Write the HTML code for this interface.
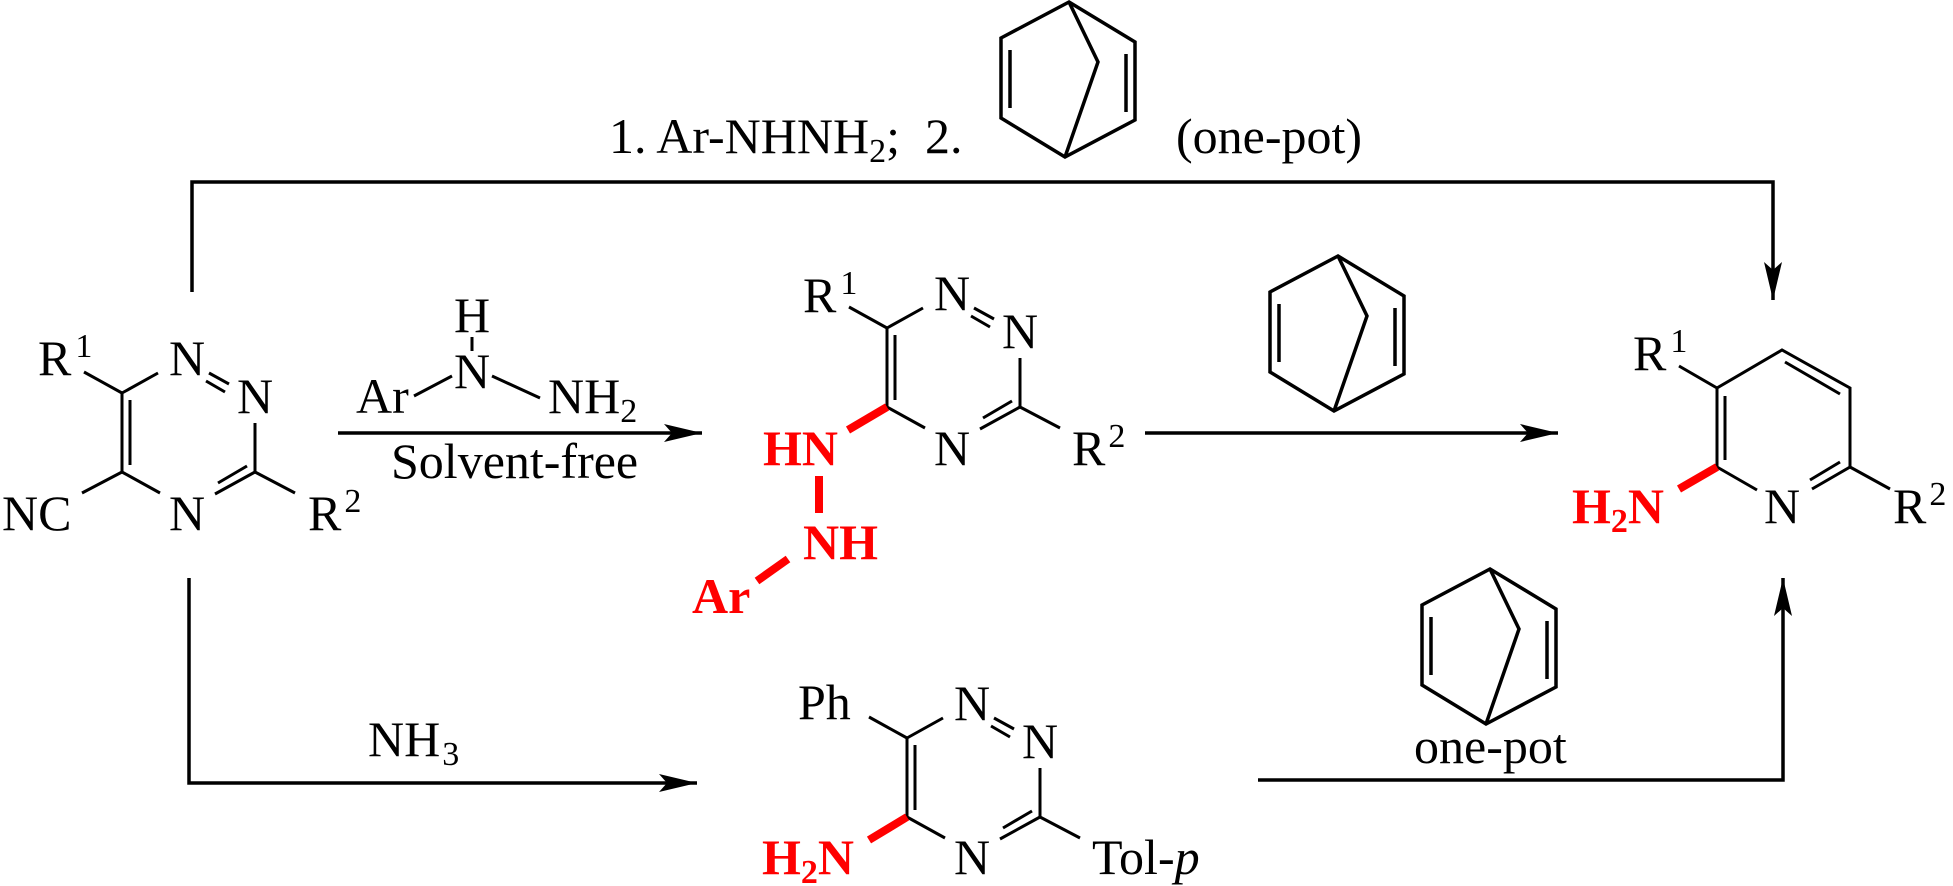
<!DOCTYPE html>
<html><head><meta charset="utf-8"><style>
html,body{margin:0;padding:0;background:#fff;}
svg{display:block;}
text{font-family:"Liberation Serif",serif;font-size:50px;fill:#000;}
.r{fill:#ff0000;font-weight:bold;}
</style></head><body>
<svg width="1953" height="886" viewBox="0 0 1953 886" xmlns="http://www.w3.org/2000/svg">
<defs>
<marker id="ah" markerWidth="44" markerHeight="24" refX="38" refY="12" orient="auto" markerUnits="userSpaceOnUse">
<path d="M0,3 L38,12 L0,21 L8,12 Z" fill="#000"/>
</marker>
<g id="trz" stroke="#000" stroke-width="3" fill="none">
<line x1="0" y1="0" x2="36" y2="-20"/>
<line x1="87" y1="-20" x2="107" y2="-9"/>
<line x1="84" y1="-12" x2="103" y2="-1"/>
<line x1="133" y1="30" x2="133" y2="79"/>
<line x1="133" y1="79" x2="93" y2="101"/>
<line x1="125" y1="73" x2="96" y2="90"/>
<line x1="0" y1="79" x2="38" y2="100"/>
<line x1="0" y1="0" x2="0" y2="79"/>
<line x1="8" y1="7" x2="8" y2="72"/>
</g>
<g id="nbd" stroke="#000" stroke-width="3.5" fill="none" stroke-linejoin="miter">
<path d="M0,0 L-68,36 L-68,116 L-4,155 L66,118 L66,40 Z"/>
<path d="M0,0 L29,60 L-4,155"/>
<line x1="-59" y1="48" x2="-59" y2="106"/>
<line x1="57" y1="52" x2="57" y2="110"/>
</g>
</defs>

<!-- top route -->
<polyline points="192,292 192,182 1773,182 1773,300" fill="none" stroke="#000" stroke-width="3.5" marker-end="url(#ah)"/>
<text x="609" y="153" xml:space="preserve">1. Ar-NHNH<tspan font-size="34" dy="9">2</tspan><tspan dy="-9">;  2.</tspan></text>
<use href="#nbd" x="1069" y="2"/>
<text x="1176" y="153">(one-pot)</text>

<!-- left triazine -->
<use href="#trz" x="122" y="393"/>
<g stroke="#000" stroke-width="3">
<line x1="122" y1="393" x2="84" y2="372"/>
<line x1="122" y1="472" x2="82" y2="493"/>
<line x1="255" y1="472" x2="295" y2="493"/>
</g>
<text x="38" y="375">R<tspan font-size="34" dx="4" dy="-18">1</tspan></text>
<text x="187" y="375" text-anchor="middle">N</text>
<text x="255" y="413" text-anchor="middle">N</text>
<text x="187" y="530" text-anchor="middle">N</text>
<text x="2" y="530">NC</text>
<text x="308" y="530">R<tspan font-size="34" dx="3" dy="-18">2</tspan></text>

<!-- reagent arrow 1 -->
<text x="356" y="413">Ar</text>
<text x="472" y="388" text-anchor="middle">N</text>
<text x="472" y="332" text-anchor="middle">H</text>
<text x="548" y="413">NH<tspan font-size="34" dy="9">2</tspan></text>
<g stroke="#000" stroke-width="3">
<line x1="414" y1="396" x2="452" y2="376"/>
<line x1="492" y1="376" x2="540" y2="398"/>
<line x1="472" y1="337" x2="472" y2="351"/>
</g>
<text x="391" y="478">Solvent-free</text>
<line x1="338" y1="433" x2="702" y2="433" stroke="#000" stroke-width="3.5" marker-end="url(#ah)"/>

<!-- middle triazine -->
<use href="#trz" x="887" y="328"/>
<g stroke="#000" stroke-width="3">
<line x1="887" y1="328" x2="849" y2="307"/>
<line x1="1020" y1="407" x2="1060" y2="428"/>
</g>
<g stroke="#ff0000" stroke-width="8">
<line x1="887" y1="407" x2="848" y2="430"/>
<line x1="819" y1="476" x2="819" y2="513"/>
<line x1="788" y1="559" x2="757" y2="581"/>
</g>
<text x="803" y="312">R<tspan font-size="34" dx="4" dy="-18">1</tspan></text>
<text x="952" y="310" text-anchor="middle">N</text>
<text x="1020" y="348" text-anchor="middle">N</text>
<text x="952" y="465" text-anchor="middle">N</text>
<text x="1072" y="465">R<tspan font-size="34" dx="3" dy="-18">2</tspan></text>
<text class="r" x="763" y="465">HN</text>
<text class="r" x="803" y="559">NH</text>
<text class="r" x="692" y="613">Ar</text>

<!-- arrow 2 -->
<use href="#nbd" x="1338" y="256"/>
<line x1="1145" y1="433" x2="1558" y2="433" stroke="#000" stroke-width="3.5" marker-end="url(#ah)"/>

<!-- pyridine -->
<g stroke="#000" stroke-width="3" fill="none">
<polyline points="1717,467 1717,388 1782,350 1850,388 1850,467 1812,489"/>
<line x1="1785" y1="362" x2="1840" y2="394"/>
<line x1="1725" y1="396" x2="1725" y2="460"/>
<line x1="1840" y1="462" x2="1810" y2="480"/>
<line x1="1757" y1="490" x2="1717" y2="467"/>
<line x1="1717" y1="388" x2="1679" y2="366"/>
<line x1="1850" y1="467" x2="1890" y2="489"/>
</g>
<line x1="1717" y1="467" x2="1679" y2="489" stroke="#ff0000" stroke-width="8"/>
<text x="1633" y="370">R<tspan font-size="34" dx="4" dy="-18">1</tspan></text>
<text x="1782" y="523" text-anchor="middle">N</text>
<text x="1893" y="523">R<tspan font-size="34" dx="3" dy="-18">2</tspan></text>
<text class="r" x="1572" y="523">H<tspan font-size="34" dy="9">2</tspan><tspan dy="-9">N</tspan></text>

<!-- bottom route -->
<polyline points="189,578 189,783 697,783" fill="none" stroke="#000" stroke-width="3.5" marker-end="url(#ah)"/>
<text x="368" y="756">NH<tspan font-size="34" dx="2" dy="9">3</tspan></text>

<use href="#trz" x="907" y="738"/>
<g stroke="#000" stroke-width="3">
<line x1="907" y1="738" x2="869" y2="717"/>
<line x1="1040" y1="817" x2="1080" y2="838"/>
</g>
<line x1="907" y1="817" x2="869" y2="840" stroke="#ff0000" stroke-width="8"/>
<text x="798" y="719">Ph</text>
<text x="972" y="720" text-anchor="middle">N</text>
<text x="1040" y="758" text-anchor="middle">N</text>
<text x="972" y="874" text-anchor="middle">N</text>
<text x="1092" y="874">Tol-<tspan font-style="italic">p</tspan></text>
<text class="r" x="762" y="874">H<tspan font-size="34" dy="9">2</tspan><tspan dy="-9">N</tspan></text>

<use href="#nbd" x="1490" y="569"/>
<text x="1414" y="763">one-pot</text>
<polyline points="1258,780 1783,780 1783,578" fill="none" stroke="#000" stroke-width="3.5" marker-end="url(#ah)"/>
</svg>
</body></html>
